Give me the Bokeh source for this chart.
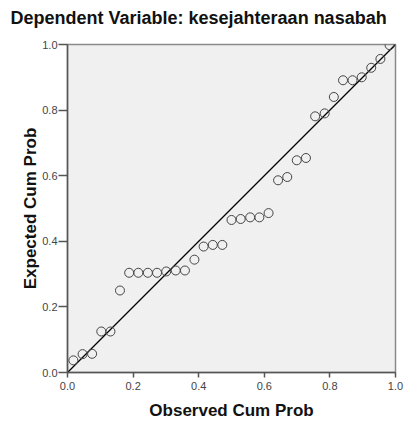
from bokeh.plotting import figure
from bokeh.models import Title, ColumnDataSource, PrintfTickFormatter
from bokeh.embed import file_html
from bokeh.resources import INLINE

# Observed cumulative probabilities (x) and expected cumulative probabilities (y)
observed = [0.018, 0.046, 0.075, 0.103, 0.131, 0.160, 0.188, 0.216, 0.245, 0.273,
            0.301, 0.330, 0.358, 0.387, 0.415, 0.443, 0.472, 0.500, 0.528, 0.557,
            0.585, 0.613, 0.642, 0.670, 0.699, 0.727, 0.755, 0.784, 0.812, 0.840,
            0.869, 0.897, 0.926, 0.954, 0.982]
expected = [0.037, 0.056, 0.057, 0.125, 0.125, 0.250, 0.304, 0.304, 0.304, 0.304,
            0.308, 0.311, 0.311, 0.344, 0.384, 0.389, 0.389, 0.465, 0.468, 0.473,
            0.473, 0.486, 0.586, 0.596, 0.647, 0.654, 0.781, 0.790, 0.840, 0.891,
            0.891, 0.900, 0.929, 0.956, 0.998]
ref_line = [0.0, 1.0]
ticks = [0.0, 0.2, 0.4, 0.6, 0.8, 1.0]
title_text = "Dependent Variable: kesejahteraan nasabah"
x_label = "Observed Cum Prob"
y_label = "Expected Cum Prob"

FONT = "Liberation Sans"

p = figure(width=404, height=422, output_backend="svg", toolbar_location=None,
           x_range=(0, 1), y_range=(0, 1),
           min_border_left=67, min_border_right=9, min_border_top=44, min_border_bottom=50)

p.background_fill_color = "#f0f0f0"
p.border_fill_color = "white"
p.outline_line_color = "#8a8a8a"
p.outline_line_width = 1.5
p.grid.visible = False

p.line(ref_line, ref_line, line_color="black", line_width=1.2)
src = ColumnDataSource(dict(x=observed, y=expected))
p.scatter("x", "y", source=src, size=9, marker="circle", fill_color=None,
          line_color="#444444", line_width=1)

fmt = PrintfTickFormatter(format="%.1f")
for ax in (p.xaxis[0], p.yaxis[0]):
    ax.ticker = ticks
    ax.formatter = fmt
    ax.minor_tick_line_color = None
    ax.major_tick_in = 0
    ax.major_tick_line_color = "#555555"
    ax.major_tick_line_width = 1.5
    ax.axis_line_color = "#555555"
    ax.axis_line_width = 1.5
    ax.major_label_text_font = FONT
    ax.major_label_text_font_size = "11px"
    ax.major_label_text_color = "#444444"

p.xaxis[0].major_tick_out = 5
p.yaxis[0].major_tick_out = 9
p.xaxis[0].major_label_standoff = 4
p.yaxis[0].major_label_standoff = 1

# trailing empty line lifts the title towards the top edge
p.title.text = title_text + "\n"
p.title.align = "left"
p.title.offset = -57
p.title.standoff = 2
p.title.text_line_height = 0.8
p.title.text_font = FONT
p.title.text_font_size = "18px"
p.title.text_font_style = "bold"
p.title.text_color = "#111111"

# leading empty line pushes the axis title slightly lower
xt = Title(text="\n" + x_label, align="center", standoff=2, text_line_height=0.3,
           text_font=FONT, text_font_size="17px", text_font_style="bold",
           text_color="#111111")
yt = Title(text=y_label, align="center", standoff=0, text_font=FONT,
           text_font_size="17px", text_font_style="bold", text_color="#111111")
p.add_layout(xt, "below")
p.add_layout(yt, "left")

open("out.html", "w").write(file_html(p, INLINE))
